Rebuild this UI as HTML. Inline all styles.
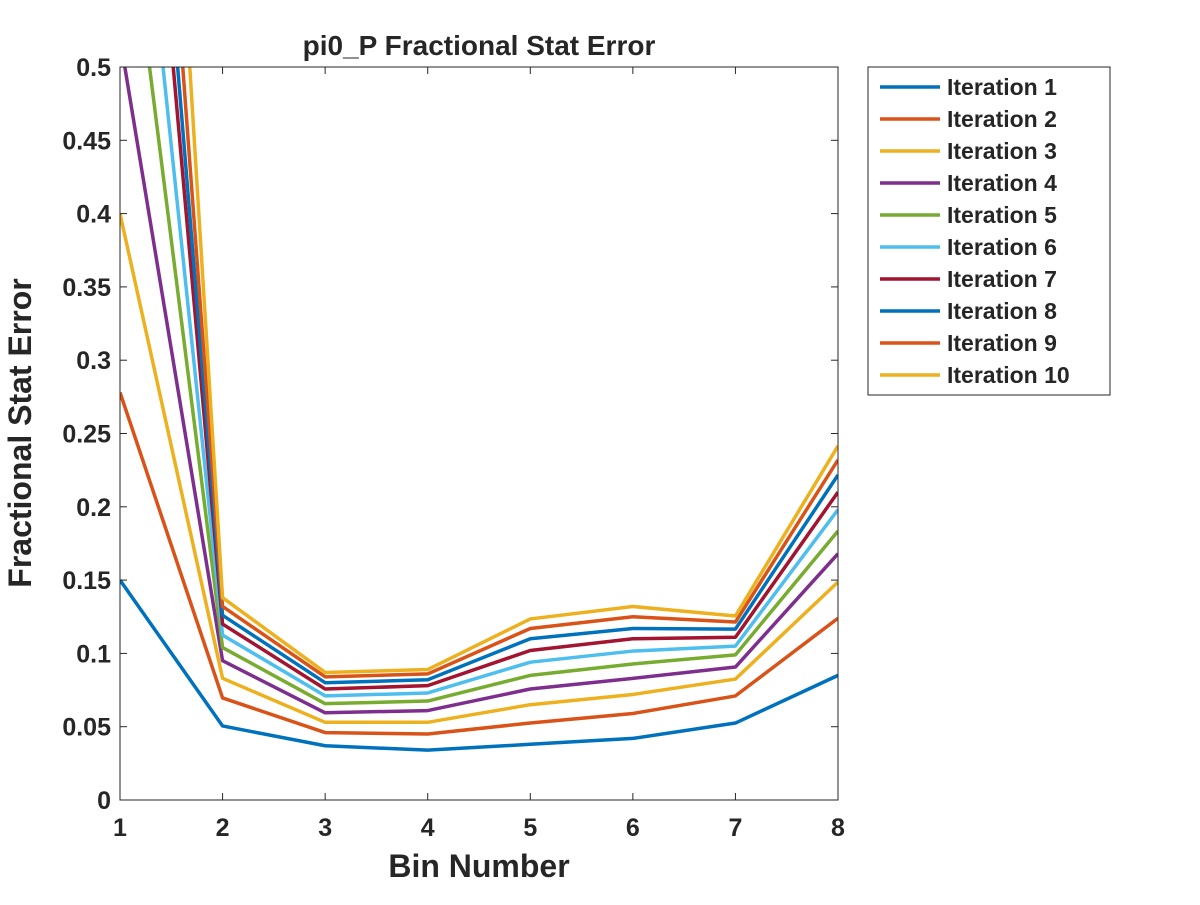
<!DOCTYPE html>
<html><head><meta charset="utf-8"><style>
body{margin:0;background:#fff}
svg text{font-family:"Liberation Sans",Arial,sans-serif;font-weight:bold;fill:#262626}
</style></head><body>
<svg id="chart" width="1200" height="900" xmlns="http://www.w3.org/2000/svg">
<defs><clipPath id="clip"><rect x="120" y="67" width="718" height="733"/></clipPath></defs>
<rect width="1200" height="900" fill="#fff"/>
<g id="plot" clip-path="url(#clip)"></g>
<g id="axes"></g>
<g id="legend"></g>
</svg>
<script>
const categories=[1,2,3,4,5,6,7,8];
const seriesNames=["Iteration 1","Iteration 2","Iteration 3","Iteration 4","Iteration 5","Iteration 6","Iteration 7","Iteration 8","Iteration 9","Iteration 10"];
const it1=[0.15,0.0505,0.037,0.034,0.038,0.042,0.0525,0.085];
const it2=[0.278,0.0696,0.046,0.045,0.0525,0.059,0.071,0.124];
const it3=[0.40,0.083,0.053,0.053,0.065,0.072,0.0825,0.1487];
const it4=[0.52,0.095,0.0595,0.061,0.0757,0.083,0.0907,0.168];
const it5=[0.66,0.104,0.0657,0.0675,0.085,0.0928,0.099,0.1835];
const it6=[0.78,0.1125,0.071,0.073,0.094,0.1016,0.105,0.198];
const it7=[0.91,0.12,0.0757,0.078,0.102,0.11,0.111,0.210];
const it8=[0.98,0.126,0.080,0.082,0.11,0.117,0.1166,0.2217];
const it9=[1.08,0.132,0.084,0.086,0.117,0.125,0.1214,0.232];
const it10=[1.27,0.138,0.087,0.089,0.1235,0.132,0.1255,0.2415];
const yTicks=[0,0.05,0.1,0.15,0.2,0.25,0.3,0.35,0.4,0.45,0.5];
const yTickLabels=["0","0.05","0.1","0.15","0.2","0.25","0.3","0.35","0.4","0.45","0.5"];
const series=[it1,it2,it3,it4,it5,it6,it7,it8,it9,it10];
const colors=["#0072BD","#D95319","#EDB120","#7E2F8E","#77AC30","#4DBEEE","#A2142F","#0072BD","#D95319","#EDB120"];
const L=120,R=838,T=67,B=800;
const xs=v=>L+(v-1)/7*(R-L);
const ys=v=>B-v/0.5*(B-T);
const NS="http://www.w3.org/2000/svg";
function mk(tag,attrs,parent,text){const e=document.createElementNS(NS,tag);for(const k in attrs)e.setAttribute(k,attrs[k]);if(text!==undefined)e.textContent=text;parent.appendChild(e);return e;}
const plot=document.getElementById('plot'),axes=document.getElementById('axes'),legend=document.getElementById('legend');
series.forEach((s,i)=>{
  const p=mk('polyline',{points:s.map((v,j)=>xs(categories[j])+','+ys(v)).join(' '),fill:'none',stroke:colors[i],'stroke-width':3.5,'stroke-linejoin':'round'},plot);
  
  
});
const box=mk('rect',{x:L,y:T,width:R-L,height:B-T,fill:'none',stroke:'#262626','stroke-width':1},axes);


yTicks.forEach((v,i)=>{
  const y=ys(v);
  mk('line',{x1:L,x2:L+7,y1:y,y2:y,stroke:'#262626'},axes);
  mk('line',{x1:R,x2:R-7,y1:y,y2:y,stroke:'#262626'},axes);
  const t=mk('text',{x:L-9,y:y+9,'text-anchor':'end','font-size':25},axes,yTickLabels[i]);
  
  
});
categories.forEach(c=>{
  const x=xs(c);
  mk('line',{x1:x,x2:x,y1:B,y2:B-7,stroke:'#262626'},axes);
  mk('line',{x1:x,x2:x,y1:T,y2:T+7,stroke:'#262626'},axes);
  const t=mk('text',{x:x,y:B+36,'text-anchor':'middle','font-size':25},axes,String(c));
  
  
});
let t=mk('text',{x:479,y:55,'text-anchor':'middle','font-size':28,fill:'#000'},axes,'pi0_P Fractional Stat Error');


t=mk('text',{x:479,y:877,'text-anchor':'middle','font-size':32},axes,'Bin Number');


t=mk('text',{x:0,y:0,'text-anchor':'middle','font-size':32,transform:'translate(31,433) rotate(-90)'},axes,'Fractional Stat Error');


const lb=mk('rect',{x:868,y:67,width:242,height:328,fill:'#fff',stroke:'#262626','stroke-width':1},legend);


seriesNames.forEach((n,i)=>{
  const y=87+i*32;
  const g=mk('g',{},legend);
  
  
  mk('line',{x1:880,x2:940,y1:y,y2:y,stroke:colors[i],'stroke-width':3.5},g);
  mk('text',{x:947,y:y+8,'font-size':23,fill:'#000'},g,n);
});
</script>
</body></html>
